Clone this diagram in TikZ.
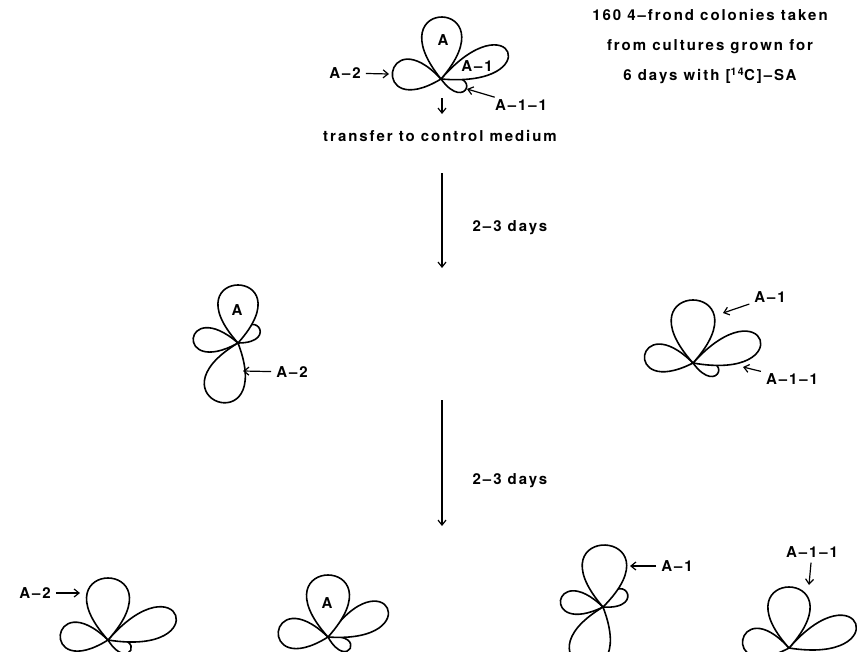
\documentclass[tikz,border=0pt]{standalone}
\usepackage{fontspec}
\newfontfamily\lblfont[Ligatures=TeX,LetterSpace=13]{TeX Gyre Heros}
\usepackage{tikz}
\usetikzlibrary{arrows.meta}

% one frond: base point, direction, length, half opening angle
\newcommand{\frond}[4]{%
  \filldraw[frond] (#1) .. controls +({#2-#4}:{#3/(0.75*cos(#4))})
    and +({#2+#4}:{#3/(0.75*cos(#4))}) .. (#1);}

\begin{document}
\begin{tikzpicture}[x=1pt,y=-1pt,
    frond/.style={draw=black,fill=white,line width=1.6pt,line join=round},
    lbl/.style={font=\lblfont\bfseries\fontsize{15}{17}\selectfont,inner sep=1pt}]
\useasboundingbox (0,0) rectangle (857,651);
\clip (0,0) rectangle (857,651);

% base points of the colonies
\coordinate (c1) at (441,79);
\coordinate (c2) at (238,343);
\coordinate (c3) at (693,363);
\coordinate (c4) at (108,640);
\coordinate (c5) at (328,637);
\coordinate (c6) at (603,607);
\coordinate (c7) at (789,648);

% starting colony
\frond{c1}{20}{27}{34}
\frond{c1}{-22}{72}{27}
\frond{c1}{188}{49}{39}
\frond{c1}{-89}{62}{40}

% after 2-3 days
\frond{c2}{186}{45}{35}
\frond{c2}{-37}{26}{37}
\frond{c2}{109}{62}{40}
\frond{c2}{-90}{58}{42}

\frond{c3}{20}{27}{34}
\frond{c3}{-19}{71}{29}
\frond{c3}{189}{49}{36}
\frond{c3}{-90}{63}{42}

% after 4-6 days
\frond{c4}{24}{25}{34}
\frond{c4}{-20}{72}{29}
\frond{c4}{186}{48}{38}
\frond{c4}{-90}{62}{42}

\frond{c5}{27}{25}{34}
\frond{c5}{-26}{66}{30}
\frond{c5}{186}{50}{38}
\frond{c5}{-90}{62}{42}

\frond{c6}{189}{43}{35}
\frond{c6}{-32}{28}{36}
\frond{c6}{109}{62}{40}
\frond{c6}{-88}{62}{43}

\frond{c7}{-20}{71}{29}
\frond{c7}{190}{47}{38}
\frond{c7}{-90}{61}{42}

\begin{scope}[every node/.style={lbl}]
    \node (a1) at (443,40) {A};
    \node (a11) at (477,66) {A--1};
    \node (a12) at (345,73) {A--2};
    \node (a111) at (521,105) {A--1--1};
    \node (info) at (710,47) [align=center,font=\lblfont\bfseries\fontsize{15}{30}\selectfont]
        {160 4--frond colonies taken\\from cultures grown for\\6 days with [\textsuperscript{14}C]--SA};
    \node (move) at (440,136) {transfer to control medium};
    \node (d1) at (510,228) {2--3 days};
    \node (d2) at (510,481) {2--3 days};

    \node (a2) at (237,310) {A};
    \node (a22) at (292,372) {A--2};
    \node (a31) at (770,297) {A--1};
    \node (a311) at (792,379) {A--1--1};

    \node (a42) at (35,593) {A--2};
    \node (a5) at (327,603) {A};
    \node (a61) at (677,566) {A--1};
    \node (a711) at (812,552) {A--1--1};
\end{scope}

% arrow ends
\coordinate (p12) at (389,74);
\coordinate (p111) at (467,89);
\coordinate (q1) at (442,98);
\coordinate (q2) at (442,114);
\coordinate (s1) at (442,173);
\coordinate (e1) at (442,268);
\coordinate (s2) at (442,400);
\coordinate (e2) at (442,526);
\coordinate (p22) at (243,371);
\coordinate (p31) at (723,313);
\coordinate (p311) at (743,367);
\coordinate (p42) at (80,593);
\coordinate (p61) at (630,566);
\coordinate (p711) at (809,585);

\begin{scope}[>={Straight Barb[length=5pt,width=8pt]},
              every edge/.style={draw=black,line width=1.2pt,shorten <=4pt}]
    \path [->] (a12) edge (p12);
    \path [->] (a111) edge (p111);
    \path [->] (q1) edge [shorten <=0pt] (q2);
    \path [->] (s1) edge [shorten <=0pt] (e1);
    \path [->] (s2) edge [shorten <=0pt] (e2);
    \path [->] (a22) edge (p22);
    \path [->] (a31) edge (p31);
    \path [->] (a311) edge (p311);
    \path [->] (a42) edge (p42);
    \path [->] (a61) edge (p61);
    \path [->] (a711) edge (p711);
\end{scope}
\end{tikzpicture}
\end{document}
